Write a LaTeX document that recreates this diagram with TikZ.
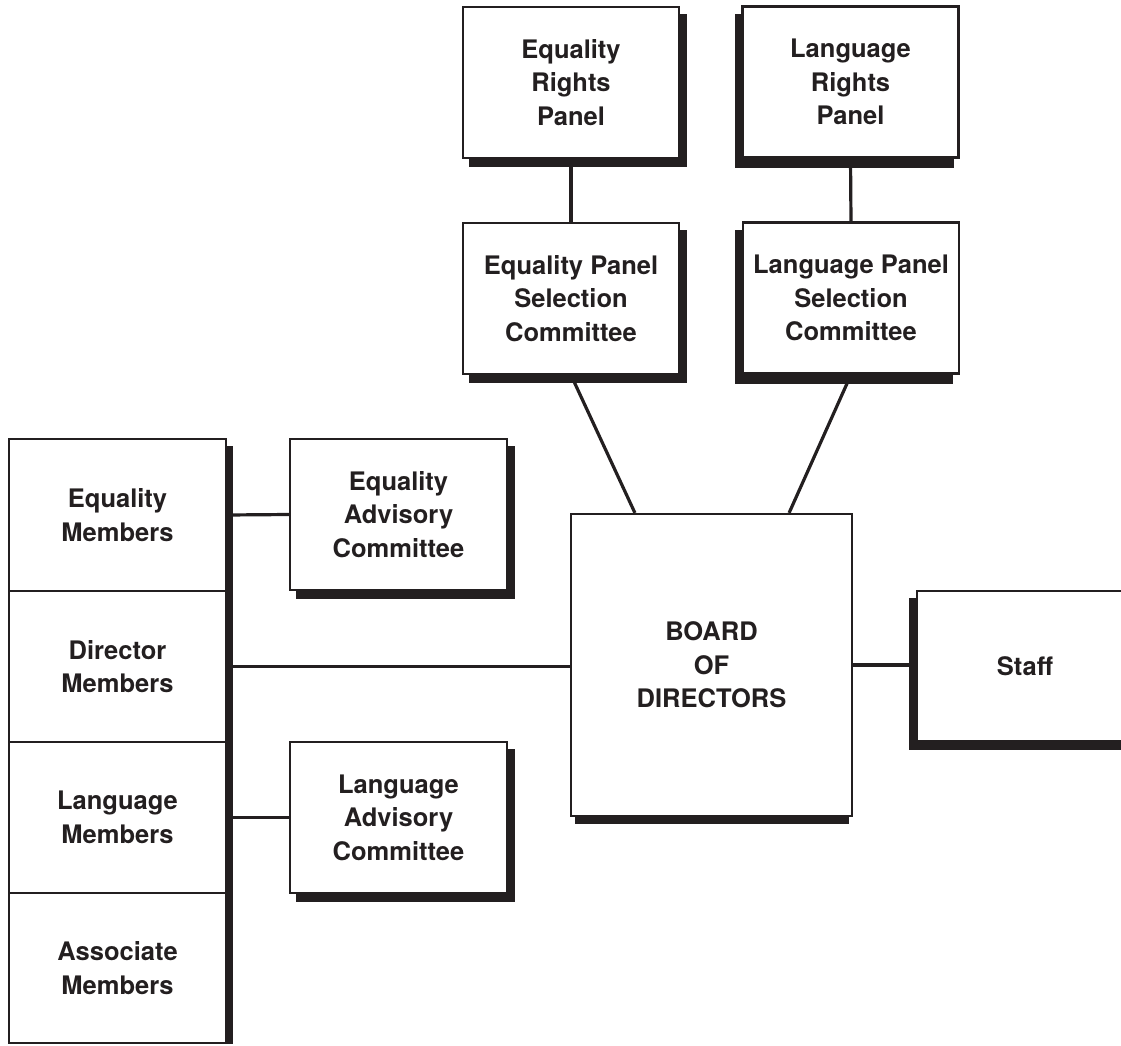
\documentclass[tikz,border=0pt]{standalone}
\usepackage{fontspec}
\setmainfont{TeX Gyre Heros}
\usetikzlibrary{calc,backgrounds}
\definecolor{ink}{HTML}{231F20}
\begin{document}
\begin{tikzpicture}[x=1pt,y=-1pt,
  box/.style={draw=ink, line width=2.2pt, fill=white, text=ink,
    font=\fontsize{25.5}{33.5}\selectfont\bfseries, align=center,
    inner sep=0pt, minimum width=216pt, minimum height=151pt},
  link/.style={draw=ink, line width=3.2pt},
  shade/.style={fill=ink}]
\useasboundingbox (0,0) rectangle (1121,1046);
% top panels
\node[box] (erp) at (571,82.5) {Equality\\Rights\\Panel};
\node[box] (lrp) at (850.5,82) {Language\\Rights\\Panel};
\node[box] (eps) at (571,298.5) {Equality Panel\\Selection\\Committee};
\node[box] (lps) at (851,298) {Language Panel\\Selection\\Committee};
% board and staff
\node[box, minimum width=281pt, minimum height=302pt] (board) at (711.5,665) {BOARD\\OF\\DIRECTORS};
\node[box, minimum height=150pt] (staff) at (1025,666) {Staff};
% member column
\node[box, minimum width=217pt, minimum height=152pt] (em) at (117.5,515) {Equality\\Members};
\node[box, minimum width=217pt, minimum height=151pt] (dm) at (117.5,666.5) {Director\\Members};
\node[box, minimum width=217pt, minimum height=151pt] (lm) at (117.5,817.5) {Language\\Members};
\node[box, minimum width=217pt, minimum height=150pt] (am) at (117.5,968) {Associate\\Members};
% advisory committees
\node[box, minimum width=217pt] (eac) at (398.5,514.5) {Equality\\Advisory\\Committee};
\node[box, minimum width=217pt] (lac) at (398.5,817.5) {Language\\Advisory\\Committee};
% shadows
\begin{scope}[on background layer]
\fill[shade] ([shift={(7,8)}]erp.south west) rectangle ([shift={(7,8)}]erp.north east);
\fill[shade] ([shift={(-6,9)}]lrp.south west) rectangle ([shift={(-6,9)}]lrp.north east);
\fill[shade] ([shift={(7,8)}]eps.south west) rectangle ([shift={(7,8)}]eps.north east);
\fill[shade] ([shift={(-7,9)}]lps.south west) rectangle ([shift={(-7,9)}]lps.north east);
\fill[shade] ([shift={(7,8)}]eac.south west) rectangle ([shift={(7,8)}]eac.north east);
\fill[shade] ([shift={(7,8)}]lac.south west) rectangle ([shift={(7,8)}]lac.north east);
\fill[shade] ([shift={(-7,8)}]staff.south west) rectangle ([shift={(-7,8)}]staff.north east);
\fill[shade] ([shift={(0,8)}]em.north east) rectangle ([shift={(6,0)}]am.south east);
\fill[shade] ([shift={(5,0)}]board.south west) rectangle ([shift={(-4,7)}]board.south east);
\end{scope}
% connectors
\draw[link] (erp.south) -- (eps.north);
\draw[link] (lrp.south) -- (lps.north);
\draw[link] (eps.south) -- ($(board.north west)+(65,0)$);
\draw[link] (lps.south) -- ($(board.north east)+(-64,0)$);
\draw[link] (em.east) -- (eac.west);
\draw[link] (lm.east) -- (lac.west);
\draw[link] (dm.east) -- (dm.east -| board.west);
\draw[link] (board.east) -- (board.east -| staff.west);
\end{tikzpicture}
\end{document}
